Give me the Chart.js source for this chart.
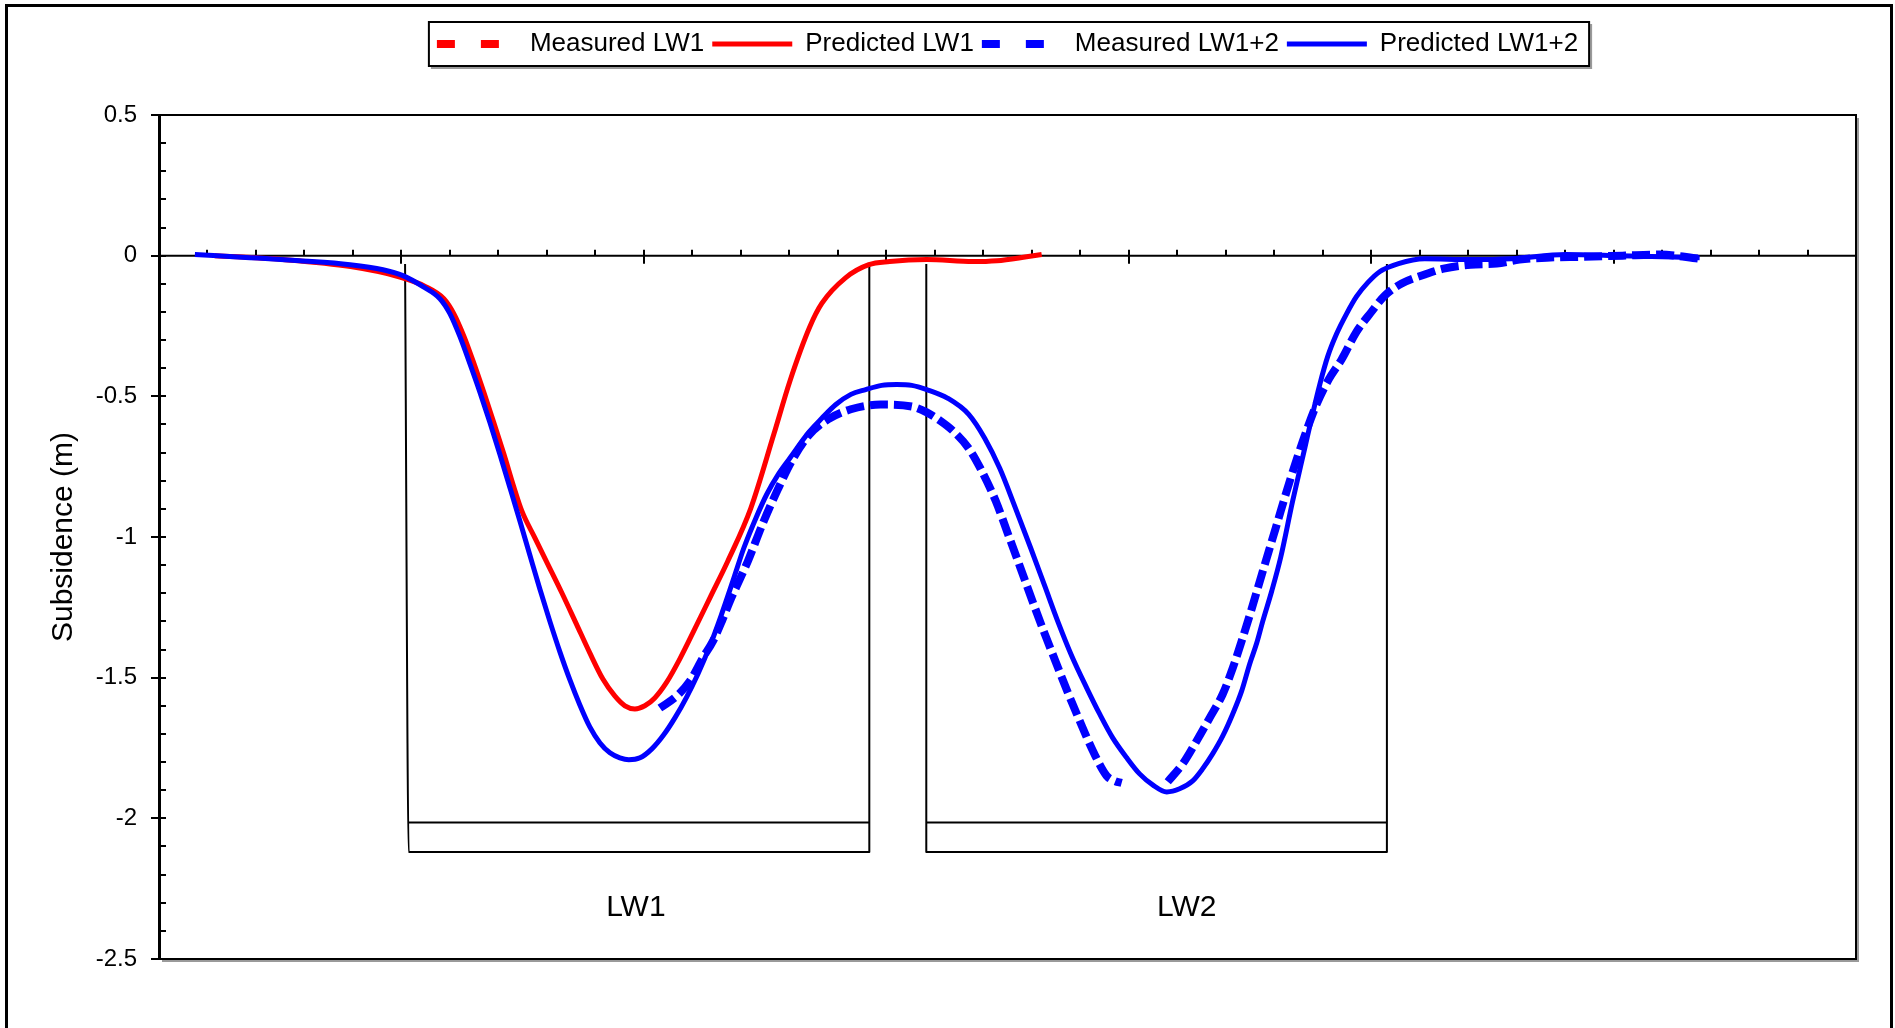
<!DOCTYPE html>
<html>
<head>
<meta charset="utf-8">
<title>Subsidence profile LW1 / LW2</title>
<script src="https://cdn.jsdelivr.net/npm/chart.js@4.4.1/dist/chart.umd.min.js"></script>
<style>
  html, body { margin: 0; padding: 0; background: #fff; }
  canvas { display: block; }
</style>
</head>
<body>
<canvas id="subsidenceChart" width="1895" height="1028"></canvas>
<script>
// distance along the survey line (m) and subsidence (m)
const predLW1X = [23, 51, 79, 99, 110, 117.5, 121.6, 125.8, 129.9, 134, 138.1, 142.3, 146.4, 149.7, 155.1, 160.4, 166.2, 172, 177.7, 183.1, 188, 192.2, 196.3, 200.4, 204.5, 209.5, 214.8, 220.6, 227.6, 234.6, 244.1, 253.6, 260.2, 268.5, 273.4, 283.3, 292.8, 301.4, 316.7, 335.7, 345.6, 357.9, 364.1];
const predLW1Y = [0.00, -0.014, -0.039, -0.075, -0.11, -0.153, -0.206, -0.287, -0.383, -0.486, -0.593, -0.706, -0.823, -0.908, -1.004, -1.097, -1.199, -1.306, -1.412, -1.505, -1.565, -1.600, -1.611, -1.600, -1.572, -1.515, -1.434, -1.334, -1.210, -1.086, -0.898, -0.635, -0.447, -0.252, -0.170, -0.078, -0.032, -0.021, -0.014, -0.021, -0.018, -0.004, 0.004];

const predLW12X = [14.8, 37.5, 58.1, 78.8, 92.4, 100.6, 108.9, 115.9, 120, 124.1, 128.2, 132.4, 136.5, 140.6, 144.7, 148.9, 153, 157.1, 161.2, 165.4, 169.5, 173.6, 177.7, 181.9, 186, 190.1, 193.8, 198.4, 203.3, 208.2, 212.8, 217.7, 222.3, 227.2, 231.8, 236.7, 241.2, 246.2, 250.7, 255.7, 260.2, 268, 273.4, 279.2, 285.4, 291.5, 298.1, 304.3, 310.5, 316.7, 325.4, 334, 340.6, 346.8, 353, 359.6, 365.4, 370.7, 376.5, 382.7, 388, 393.4, 399.2, 404.5, 409.9, 415.7, 421, 426.4, 430.5, 434.6, 438.8, 442.9, 446.6, 449.9, 452.8, 455.3, 459, 462.7, 467.6, 472.6, 475.9, 478.8, 482.1, 485.8, 489.9, 494, 498.6, 503.5, 511.3, 522.1, 541, 557.9, 580.2, 602.5, 635.5];
const predLW12Y = [0.004, -0.007, -0.018, -0.032, -0.050, -0.071, -0.110, -0.153, -0.206, -0.287, -0.383, -0.486, -0.593, -0.706, -0.823, -0.944, -1.065, -1.185, -1.299, -1.409, -1.508, -1.597, -1.675, -1.732, -1.767, -1.785, -1.792, -1.785, -1.753, -1.703, -1.643, -1.568, -1.487, -1.388, -1.281, -1.157, -1.040, -0.933, -0.848, -0.774, -0.720, -0.628, -0.578, -0.529, -0.493, -0.476, -0.461, -0.458, -0.461, -0.476, -0.507, -0.564, -0.649, -0.756, -0.891, -1.040, -1.175, -1.299, -1.423, -1.537, -1.629, -1.714, -1.785, -1.842, -1.881, -1.906, -1.895, -1.867, -1.824, -1.771, -1.707, -1.629, -1.547, -1.451, -1.377, -1.299, -1.192, -1.072, -0.873, -0.685, -0.561, -0.458, -0.358, -0.277, -0.206, -0.145, -0.096, -0.057, -0.028, -0.011, -0.014, -0.011, 0.004, 0.000, -0.007];

// null marks the stretch with no survey readings
const measLW12X = [206.6, 213.6, 219, 224.3, 228.5, 232.2, 235.5, 239.6, 242.9, 249.1, 255.3, 261.4, 268, 275.9, 285.4, 297.7, 310.5, 316.7, 322.1, 327.8, 334, 339, 345.2, 350.1, 355.1, 360, 364.9, 369.9, 374.8, 379.8, 385.6, 390.9, 394.2, 397.1, 406, 416.1, 422.3, 428, 433.4, 438.8, 442.9, 447, 450.7, 454.8, 460.6, 466.4, 471.8, 477.1, 482.5, 487.8, 494, 500.2, 505.6, 512.6, 522.1, 529.9, 541, 551.8, 561.2, 572.4, 588, 603.7, 619, 635.5];
const measLW12Y = [-1.608, -1.565, -1.512, -1.430, -1.370, -1.299, -1.228, -1.150, -1.086, -0.951, -0.830, -0.724, -0.639, -0.582, -0.546, -0.529, -0.536, -0.557, -0.586, -0.625, -0.685, -0.759, -0.873, -0.987, -1.104, -1.221, -1.334, -1.444, -1.551, -1.654, -1.767, -1.849, -1.867, -1.874, null, -1.870, -1.806, -1.725, -1.643, -1.558, -1.466, -1.359, -1.256, -1.136, -0.969, -0.802, -0.660, -0.536, -0.440, -0.369, -0.270, -0.199, -0.142, -0.099, -0.067, -0.046, -0.032, -0.028, -0.014, -0.007, -0.004, 0.000, 0.004, -0.011];

const measLW1X = [];
const measLW1Y = [];

// longwall panels: edges (m) and the slab drawn below the profile
const panelNames = ['LW1', 'LW2'];
const panelStartTop = [101.5, 316.5];
const panelStart = [103, 316.5];
const panelEnd = [293, 506.5];
const panelLabelX = [196.7, 423.9];
const panelTopY = -0.03;
const slabTopY = -2.015;
const slabBottomY = -2.12;
const panelLabelY = -2.317;

const seriesNames = ['Measured LW1', 'Predicted LW1', 'Measured LW1+2', 'Predicted LW1+2'];
const yTicks = [0.5, 0, -0.5, -1, -1.5, -2, -2.5];
const xMin = 0, xMax = 700, xMajorStep = 100, xMinorStep = 20;
const yMinorStep = 0.1;

const FONT = "'Liberation Sans', Arial, Helvetica, sans-serif";

function toPoints(xs, ys) {
    return xs.map((x, i) => ({ x: x, y: ys[i] }));
}

function panelOutline(i) {
    return [
        { x: panelStartTop[i], y: panelTopY },
        { x: panelStart[i], y: slabBottomY },
        { x: panelEnd[i], y: slabBottomY },
        { x: panelEnd[i], y: panelTopY },
        { x: panelEnd[i], y: null },
        { x: panelStart[i], y: slabTopY },
        { x: panelEnd[i], y: slabTopY }
    ];
}

// give the legend some room underneath
const legendGap = {
    id: 'legendGap',
    beforeInit(chart) {
        const origFit = chart.legend.fit;
        chart.legend.fit = function () {
            origFit.call(this);
            this.height += 48;
        };
    }
};

const decor = {
    id: 'decor',
    beforeDraw(chart) {
        const c = chart.ctx;
        c.save();
        c.fillStyle = '#fff';
        c.fillRect(0, 0, chart.width, chart.height);
        c.strokeStyle = '#000';
        c.lineWidth = 3;
        c.strokeRect(6.5, 5.5, 1885, 1100);
        c.restore();
    },
    beforeDatasetsDraw(chart) {
        const c = chart.ctx;
        const a = chart.chartArea;
        const x = chart.scales.x, y = chart.scales.y;
        const y0 = y.getPixelForValue(0);
        c.save();
        // plot frame with a light shadow
        c.strokeStyle = '#9a9a9a';
        c.lineWidth = 2;
        c.beginPath();
        c.moveTo(a.right + 2, a.top + 3);
        c.lineTo(a.right + 2, a.bottom + 2);
        c.lineTo(a.left + 3, a.bottom + 2);
        c.stroke();
        c.strokeStyle = '#000';
        c.strokeRect(a.left, a.top, a.right - a.left, a.bottom - a.top);
        // zero line acting as the x axis
        c.beginPath();
        c.moveTo(a.left, y0);
        c.lineTo(a.right, y0);
        c.stroke();
        // x ticks on the zero line
        const nx = Math.round((xMax - xMin) / xMinorStep);
        for (let k = 1; k < nx; k++) {
            const v = xMin + k * xMinorStep;
            const px = Math.round(x.getPixelForValue(v));
            const major = Math.round(v) % xMajorStep === 0;
            c.beginPath();
            c.moveTo(px, y0 - 6);
            c.lineTo(px, major ? y0 + 8 : y0);
            c.stroke();
        }
        // y minor ticks on the inside of the axis
        const ny = Math.round((y.max - y.min) / yMinorStep);
        for (let k = 1; k < ny; k++) {
            const py = Math.round(y.getPixelForValue(y.min + k * yMinorStep));
            c.beginPath();
            c.moveTo(a.left, py);
            c.lineTo(a.left + 7, py);
            c.stroke();
        }
        c.restore();
    },
    afterDraw(chart) {
        const c = chart.ctx;
        const x = chart.scales.x, y = chart.scales.y;
        c.save();
        // legend frame
        const hb = chart.legend.legendHitBoxes;
        if (hb && hb.length) {
            const first = hb[0], last = hb[hb.length - 1];
            const mid = first.top + first.height / 2;
            const l = first.left - 8, r = last.left + last.width + 11;
            c.strokeStyle = '#9a9a9a';
            c.lineWidth = 2;
            c.beginPath();
            c.moveTo(r + 2, mid - 20);
            c.lineTo(r + 2, mid + 24);
            c.lineTo(l + 2, mid + 24);
            c.stroke();
            c.strokeStyle = '#000';
            c.strokeRect(l, mid - 22, r - l, 44);
        }
        // panel names
        c.fillStyle = '#000';
        c.font = '30px ' + FONT;
        c.textAlign = 'center';
        c.textBaseline = 'middle';
        panelNames.forEach((name, i) => {
            c.fillText(name, x.getPixelForValue(panelLabelX[i]), y.getPixelForValue(panelLabelY));
        });
        c.restore();
    }
};

const outlineStyle = {
    borderColor: '#000',
    borderWidth: 2,
    tension: 0,
    pointRadius: 0,
    spanGaps: false,
    order: 5
};

const ctx = document.getElementById('subsidenceChart').getContext('2d');
const subsidenceChart = new Chart(ctx, {
    type: 'line',
    data: {
        datasets: [
            {
                label: seriesNames[0],
                data: toPoints(measLW1X, measLW1Y),
                borderColor: '#ff0000',
                backgroundColor: '#ff0000',
                borderWidth: 8,
                borderDash: [18, 6],
                order: 4
            },
            {
                label: seriesNames[1],
                data: toPoints(predLW1X, predLW1Y),
                borderColor: '#ff0000',
                backgroundColor: '#ff0000',
                borderWidth: 5,
                order: 3
            },
            {
                label: seriesNames[2],
                data: toPoints(measLW12X, measLW12Y),
                borderColor: '#0000ff',
                backgroundColor: '#0000ff',
                borderWidth: 8,
                borderDash: [18, 6],
                spanGaps: false,
                order: 1
            },
            {
                label: seriesNames[3],
                data: toPoints(predLW12X, predLW12Y),
                borderColor: '#0000ff',
                backgroundColor: '#0000ff',
                borderWidth: 5,
                order: 2
            },
            Object.assign({ label: 'LW1 panel', data: panelOutline(0) }, outlineStyle),
            Object.assign({ label: 'LW2 panel', data: panelOutline(1) }, outlineStyle)
        ]
    },
    options: {
        responsive: false,
        animation: false,
        devicePixelRatio: 1,
        layout: { padding: { top: 23, left: 0, right: 39, bottom: 69 } },
        elements: {
            point: { radius: 0, hoverRadius: 0 },
            line: { cubicInterpolationMode: 'monotone', borderJoinStyle: 'round', fill: false }
        },
        scales: {
            x: {
                type: 'linear',
                min: xMin,
                max: xMax,
                display: false
            },
            y: {
                type: 'linear',
                min: -2.5,
                max: 0.5,
                afterFit(scale) { scale.width = 159; },
                afterBuildTicks(scale) { scale.ticks = yTicks.map(v => ({ value: v })); },
                ticks: {
                    color: '#000',
                    font: { family: FONT, size: 24 },
                    padding: 14,
                    callback: v => String(v)
                },
                grid: {
                    drawOnChartArea: false,
                    drawTicks: true,
                    tickLength: 8,
                    color: '#000',
                    lineWidth: 2
                },
                border: { display: true, color: '#000', width: 3 },
                title: {
                    display: true,
                    text: 'Subsidence (m)',
                    color: '#000',
                    font: { family: FONT, size: 30 },
                    padding: { top: 46, bottom: 0 }
                }
            }
        },
        plugins: {
            legend: {
                display: true,
                position: 'top',
                fullSize: false,
                labels: {
                    color: '#000',
                    font: { family: FONT, size: 26 },
                    usePointStyle: true,
                    pointStyle: 'line',
                    pointStyleWidth: 80,
                    boxHeight: 26,
                    padding: 8,
                    filter: item => item.datasetIndex < 4,
                    sort: (a, b) => a.datasetIndex - b.datasetIndex,
                    generateLabels(chart) {
                        const items = Chart.defaults.plugins.legend.labels.generateLabels(chart);
                        items.forEach(item => {
                            if (item.datasetIndex === 0 || item.datasetIndex === 2) {
                                item.lineDash = [18, 26];
                                item.lineDashOffset = 0;
                            }
                        });
                        return items;
                    }
                }
            },
            tooltip: { enabled: false }
        }
    },
    plugins: [legendGap, decor]
});
</script>
</body>
</html>
